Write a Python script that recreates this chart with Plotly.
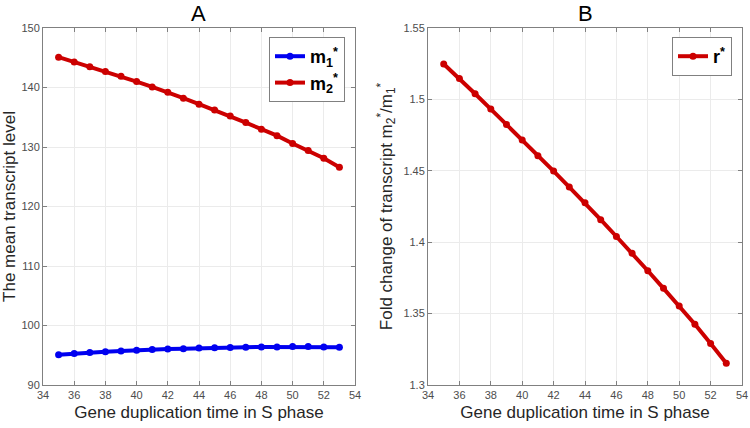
import plotly.graph_objects as go

x_time = [35, 36, 37, 38, 39, 40, 41, 42, 43, 44, 45, 46, 47, 48, 49, 50, 51, 52, 53]
m1 = [95.1, 95.3, 95.45, 95.6, 95.7, 95.85, 95.95, 96.05, 96.1, 96.2, 96.25, 96.3, 96.35, 96.4, 96.4, 96.45, 96.45, 96.4, 96.35]
m2 = [145.1, 144.3, 143.5, 142.7, 141.9, 141.0, 140.1, 139.2, 138.2, 137.2, 136.2, 135.2, 134.1, 133.0, 131.9, 130.6, 129.4, 128.1, 126.6]
r = [1.5248, 1.5147, 1.504, 1.4932, 1.4825, 1.4715, 1.4605, 1.4498, 1.4386, 1.4276, 1.4158, 1.404, 1.3923, 1.38, 1.3677, 1.3553, 1.3426, 1.329, 1.3153]

BLUE = "#0000f0"
RED = "#cc0000"
FONT = "Liberation Sans, Arial, sans-serif"

fig = go.Figure()
fig.add_trace(go.Scatter(x=x_time, y=m1, mode="lines+markers", name="<b>m<sub>1</sub><sup>*</sup></b>",
                         line=dict(color=BLUE, width=4), marker=dict(color=BLUE, size=7),
                         xaxis="x", yaxis="y", legend="legend"))
fig.add_trace(go.Scatter(x=x_time, y=m2, mode="lines+markers", name="<b>m<sub>2</sub><sup>*</sup></b>",
                         line=dict(color=RED, width=4), marker=dict(color=RED, size=7),
                         xaxis="x", yaxis="y", legend="legend"))
fig.add_trace(go.Scatter(x=x_time, y=r, mode="lines+markers", name="<b>r<sup>*</sup></b>",
                         line=dict(color=RED, width=4), marker=dict(color=RED, size=7),
                         xaxis="x2", yaxis="y2", legend="legend2"))

axis_common = dict(showline=True, linecolor="#808080", linewidth=1, mirror="ticks",
                   ticks="inside", ticklen=4, tickcolor="#808080", automargin=False,
                   showgrid=True, gridcolor="#ebebeb", gridwidth=1, zeroline=False,
                   tickfont=dict(family=FONT, size=11, color="#4d4d4d"))

TFONT = dict(family=FONT, size=17, color="#262626")
ydom = [43 / 428, 400 / 428]
fig.update_layout(
    width=750, height=428,
    margin=dict(l=0, r=0, t=0, b=0),
    paper_bgcolor="white", plot_bgcolor="white",
    font=dict(family=FONT),
    xaxis=dict(domain=[43 / 750, 355 / 750], range=[34, 54], dtick=2, anchor="y",
               title=dict(text="Gene duplication time in S phase", font=TFONT, standoff=5),
               **axis_common),
    yaxis=dict(domain=ydom, range=[90, 150], dtick=10, anchor="x",
               title=dict(text="The mean transcript level", font=TFONT, standoff=6),
               **axis_common),
    xaxis2=dict(domain=[428 / 750, 742 / 750], range=[34, 54], dtick=2, anchor="y2",
                title=dict(text="Gene duplication time in S phase", font=TFONT, standoff=5),
                **axis_common),
    yaxis2=dict(domain=ydom, range=[1.3, 1.55], dtick=0.05, anchor="x2",
                title=dict(text="Fold change of transcript m<sub>2</sub><sup>*</sup>/m<sub>1</sub><sup>*</sup>",
                           font=TFONT, standoff=6),
                **axis_common),
    legend=dict(x=345 / 750, y=(428 - 37) / 428, xanchor="right", yanchor="top",
                bgcolor="white", bordercolor="#808080", borderwidth=1,
                font=dict(family=FONT, size=18, color="black"), itemwidth=30, tracegroupgap=0),
    legend2=dict(x=732 / 750, y=(428 - 37) / 428, xanchor="right", yanchor="top",
                 bgcolor="white", bordercolor="#808080", borderwidth=1,
                 font=dict(family=FONT, size=18, color="black"), itemwidth=30),
    showlegend=True,
    annotations=[
        dict(text="A", x=199 / 750, y=(428 - 14) / 428, xref="paper", yref="paper", showarrow=False,
             font=dict(family=FONT, size=22, color="black"), xanchor="center", yanchor="middle"),
        dict(text="B", x=585 / 750, y=(428 - 14) / 428, xref="paper", yref="paper", showarrow=False,
             font=dict(family=FONT, size=22, color="black"), xanchor="center", yanchor="middle"),
    ],
)

fig.write_html("out.html", config={"displayModeBar": False},
               post_script="document.body.style.margin='0';document.body.style.overflow='hidden';")
